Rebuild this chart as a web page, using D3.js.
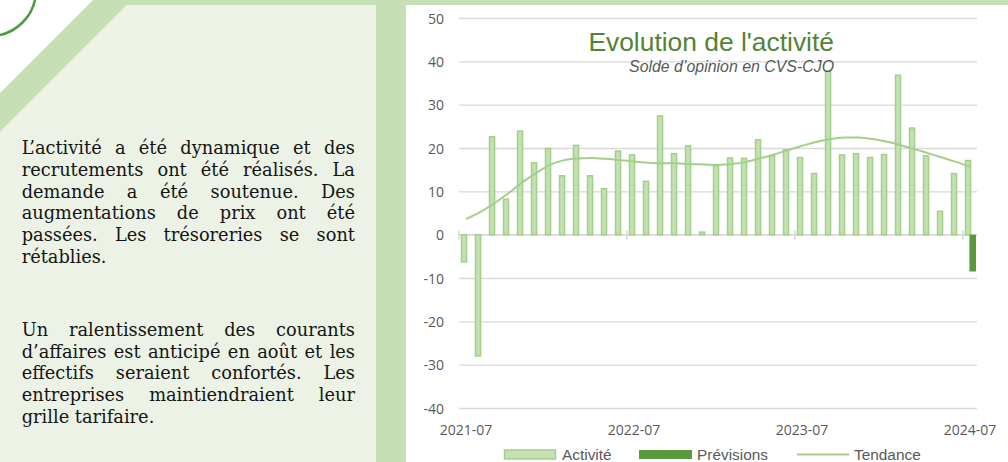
<!DOCTYPE html>
<html><head><meta charset="utf-8">
<script src="https://cdn.jsdelivr.net/npm/d3@7"></script>
<style>html,body{margin:0;padding:0;background:#fff;overflow:hidden}svg{display:block}</style>
</head><body><svg id="c" width="1008" height="462"></svg>
<script>
const months = ["2021-07","2021-08","2021-09","2021-10","2021-11","2021-12",
"2022-01","2022-02","2022-03","2022-04","2022-05","2022-06","2022-07","2022-08","2022-09","2022-10","2022-11","2022-12",
"2023-01","2023-02","2023-03","2023-04","2023-05","2023-06","2023-07","2023-08","2023-09","2023-10","2023-11","2023-12",
"2024-01","2024-02","2024-03","2024-04","2024-05","2024-06","2024-07"];
const activite = [-6.3,-28.0,22.6,8.2,23.9,16.6,19.9,13.6,20.6,13.6,10.6,19.3,18.4,12.3,27.4,18.7,20.5,0.6,
15.9,17.7,17.6,21.9,18.2,19.6,17.8,14.1,37.7,18.4,18.7,17.8,18.5,36.8,24.6,18.2,5.4,14.1,17.1];
const previsions = [null,null,null,null,null,null,null,null,null,null,null,null,null,null,null,null,null,null,
null,null,null,null,null,null,null,null,null,null,null,null,null,null,null,null,null,null,-8.5];
const tendance = [3.6,5.2,7.2,9.5,12.0,14.2,16.1,17.2,17.6,17.7,17.5,17.2,16.9,16.6,16.5,16.5,16.3,16.2,
16.1,16.3,16.8,17.6,18.5,19.5,20.5,21.4,22.0,22.4,22.4,22.1,21.5,20.7,19.8,18.8,17.8,16.8,15.7];
const yTicks = [-40,-30,-20,-10,0,10,20,30,40,50];
const xTickLabels = ["2021-07","2022-07","2023-07","2024-07"];
const seriesNames = ["Activité","Prévisions","Tendance"];
const chartTitle = "Evolution de l'activité";
const chartSubtitle = "Solde d’opinion en CVS-CJO";
const paragraph1 = ["L’activité a été dynamique et des","recrutements ont été réalisés. La","demande a été soutenue. Des","augmentations de prix ont été","passées. Les trésoreries se sont","rétablies."];
const paragraph2 = ["Un ralentissement des courants","d’affaires est anticipé en août et les","effectifs seraient confortés. Les","entreprises maintiendraient leur","grille tarifaire."];

const BAND="#c5e0b4", PANEL="#ecf3e6", BAR="#c5e0b4", BARSTROKE="#a3cf8b", DARK="#5b9a3c", TREND="#a3cf8b", GRID="#d9d9d9", LABEL="#595959";

const svg = d3.select("#c");
// decorative background
svg.append("polygon").attr("points","93,0 1008,0 1008,462 0,462 0,93").attr("fill",BAND);
svg.append("polygon").attr("points","126.7,5 376,5 376,462 0,462 0,131.7").attr("fill",PANEL);
svg.append("rect").attr("x",406).attr("y",5).attr("width",602).attr("height",457).attr("fill","#fff");
svg.append("circle").attr("cx",-10).attr("cy",-10).attr("r",46).attr("fill","none").attr("stroke","#4a9e3f").attr("stroke-width",2.6);

// left text, justified
function drawPara(lines, y0){
  const W = 333.3, x0 = 21.7, lh = 21.7;
  lines.forEach((ln,i)=>{
    const t = svg.append("text").attr("x",x0).attr("y",y0+i*lh)
      .attr("font-family","'DejaVu Serif', serif").attr("font-size",17.8).attr("fill","#141414").text(ln);
    if(i < lines.length-1){
      const nat = t.node().getComputedTextLength();
      const ns = (ln.match(/ /g)||[]).length;
      if(ns>0) t.style("word-spacing", ((W-nat)/ns)+"px");
    }
  });
}
drawPara(paragraph1, 154.3);
drawPara(paragraph2, 336);

// chart
const x = d3.scaleBand().domain(months).range([459,977]).padding(0);
const y = d3.scaleLinear().domain([-40,50]).range([408,18]);
const bw = x.bandwidth();

// gridlines
const grid = svg.append("g").attr("transform","translate(459,0)")
  .call(d3.axisLeft(y).tickValues(yTicks).tickSize(-(977-459)).tickFormat(""));
grid.select(".domain").remove();
grid.selectAll("line").attr("stroke",GRID).attr("stroke-width",1.3);

// y labels
const ya = svg.append("g").attr("transform","translate(459,0)")
  .call(d3.axisLeft(y).tickValues(yTicks).tickSize(0).tickPadding(15).tickFormat(d=>String(d)));
ya.select(".domain").remove();
ya.selectAll("text").attr("font-family","'Open Sans', sans-serif").attr("font-size",14).attr("fill",LABEL).attr("dy","0.36em");

// x axis line and ticks
svg.append("line").attr("x1",459).attr("x2",977).attr("y1",y(0)).attr("y2",y(0)).attr("stroke",GRID).attr("stroke-width",1.5);
svg.selectAll(".xt").data(xTickLabels).enter().append("line")
  .attr("x1",d=>x(d)).attr("x2",d=>x(d)).attr("y1",y(0)-4).attr("y2",y(0)+5)
  .attr("stroke",GRID).attr("stroke-width",1.5);
svg.selectAll(".xl").data(xTickLabels).enter().append("text")
  .attr("x",d=>x(d)+bw/2).attr("y",435).attr("text-anchor","middle")
  .attr("font-family","'Open Sans', sans-serif").attr("font-size",14).attr("fill",LABEL).text(d=>d);

// bars
svg.selectAll(".ba").data(months.map((m,i)=>({m,v:activite[i]}))).enter().append("rect")
  .attr("x",d=>x(d.m)+bw*0.18).attr("width",bw*0.36)
  .attr("y",d=>Math.min(y(d.v),y(0))).attr("height",d=>Math.abs(y(d.v)-y(0)))
  .attr("fill",BAR).attr("stroke",BARSTROKE).attr("stroke-width",1.5);
svg.selectAll(".bp").data(months.map((m,i)=>({m,v:previsions[i]})).filter(d=>d.v!==null)).enter().append("rect")
  .attr("x",d=>x(d.m)+bw*0.46).attr("width",bw*0.47)
  .attr("y",d=>Math.min(y(d.v),y(0))).attr("height",d=>Math.abs(y(d.v)-y(0)))
  .attr("fill",DARK);

// trend
svg.append("path").datum(months.map((m,i)=>({m,v:tendance[i]})))
  .attr("d",d3.line().x(d=>x(d.m)+bw/2).y(d=>y(d.v)).curve(d3.curveCatmullRom.alpha(0.5)))
  .attr("fill","none").attr("stroke",TREND).attr("stroke-width",2);

// title
svg.append("text").attr("x",834).attr("y",51).attr("text-anchor","end")
  .attr("font-family","'Liberation Sans', Arial, sans-serif").attr("font-size",26.4).attr("fill","#548235").text(chartTitle);
svg.append("text").attr("x",834).attr("y",71.5).attr("text-anchor","end")
  .attr("font-family","'Liberation Sans', Arial, sans-serif").attr("font-size",15.9).attr("font-style","italic").attr("fill",LABEL).text(chartSubtitle);

// legend
const lg = svg.append("g").attr("font-family","'Liberation Sans', Arial, sans-serif").attr("font-size",15.4).attr("fill",LABEL);
lg.append("rect").attr("x",504.5).attr("y",450).attr("width",51).attr("height",9).attr("fill",BAR).attr("stroke",BARSTROKE).attr("stroke-width",1.5);
lg.append("text").attr("x",562).attr("y",459.5).text(seriesNames[0]);
lg.append("rect").attr("x",639).attr("y",450).attr("width",53).attr("height",9).attr("fill",DARK);
lg.append("text").attr("x",697).attr("y",459.5).text(seriesNames[1]);
lg.append("line").attr("x1",797).attr("x2",849).attr("y1",454.5).attr("y2",454.5).attr("stroke",TREND).attr("stroke-width",2);
lg.append("text").attr("x",854).attr("y",459.5).text(seriesNames[2]);
</script></body></html>
